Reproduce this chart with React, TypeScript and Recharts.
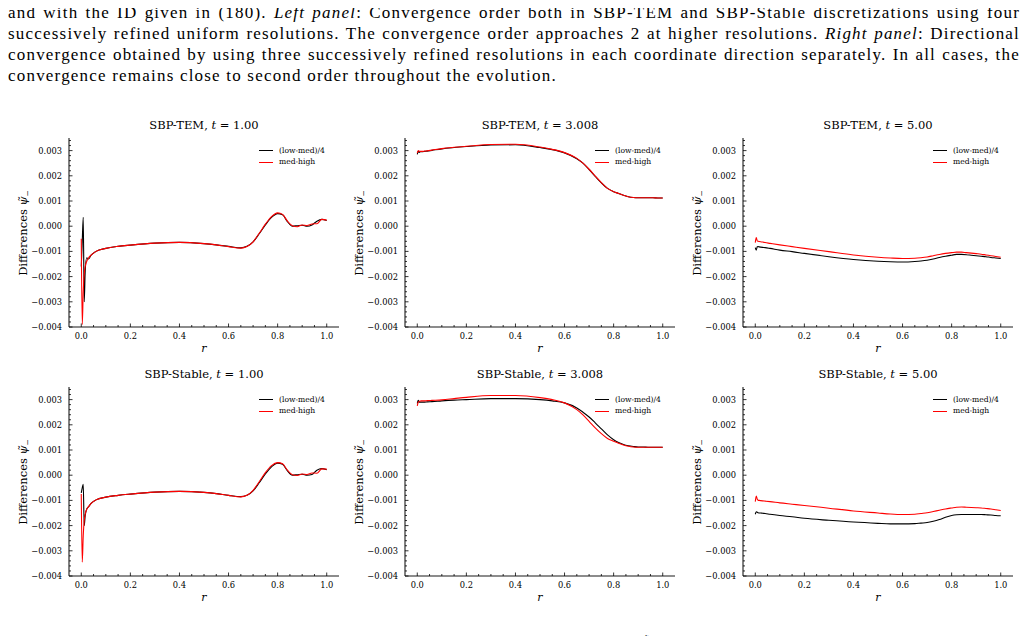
import { LineChart, Line, XAxis, YAxis } from 'recharts';

// radial grid shared by all panels
const rGrid = [
  0, 0.004, 0.008, 0.012, 0.016, 0.022, 0.03, 0.04, 0.06, 0.1, 0.15, 0.2, 0.3, 0.4, 0.5, 0.55, 0.6,
  0.65, 0.675, 0.7, 0.725, 0.75, 0.775, 0.8, 0.82, 0.84, 0.86, 0.88, 0.9, 0.92, 0.94, 0.96, 0.98, 1.0,
];

// differences of psi_minus, in units of 1e-3
const temT1Low = [
  -1.6, -0.6, 0.35, -3.0, -1.8, -1.25, -1.3, -1.15, -1.0, -0.88, -0.8, -0.75, -0.67, -0.64, -0.69, -0.74, -0.8,
  -0.86, -0.8, -0.62, -0.3, 0.05, 0.35, 0.5, 0.45, 0.18, 0.0, 0.02, 0.04, 0.0, 0.05, 0.2, 0.27, 0.23,
];
const temT1High = [
  -0.5, -3.9, -2.6, -1.9, -1.6, -1.4, -1.25, -1.15, -1.0, -0.88, -0.8, -0.75, -0.67, -0.64, -0.69, -0.74, -0.81,
  -0.87, -0.81, -0.62, -0.28, 0.08, 0.38, 0.53, 0.47, 0.2, 0.02, -0.02, 0.05, 0.03, 0.09, 0.1, 0.27, 0.24,
];
const temT3Low = [
  2.85, 2.97, 2.93, 2.95, 2.96, 2.96, 2.97, 2.98, 3.01, 3.07, 3.12, 3.16, 3.22, 3.23, 3.12, 3.04, 2.91,
  2.68, 2.5, 2.25, 1.98, 1.72, 1.5, 1.37, 1.3, 1.23, 1.17, 1.14, 1.13, 1.13, 1.13, 1.13, 1.12, 1.12,
];
const temT3High = [
  2.9, 3.0, 2.97, 2.97, 2.97, 2.97, 2.98, 2.99, 3.02, 3.08, 3.13, 3.17, 3.24, 3.25, 3.14, 3.05, 2.92,
  2.69, 2.5, 2.26, 1.99, 1.73, 1.5, 1.37, 1.3, 1.23, 1.17, 1.14, 1.13, 1.13, 1.13, 1.13, 1.12, 1.12,
];
const temT5Low = [
  -0.85, -0.95, -0.82, -0.81, -0.82, -0.83, -0.84, -0.85, -0.88, -0.95, -1.01, -1.08, -1.21, -1.32, -1.39, -1.41, -1.42,
  -1.4, -1.38, -1.35, -1.3, -1.24, -1.19, -1.15, -1.12, -1.12, -1.13, -1.15, -1.17, -1.19, -1.21, -1.24, -1.26, -1.28,
];
const temT5High = [
  -0.65, -0.45, -0.58, -0.6, -0.61, -0.62, -0.63, -0.65, -0.68, -0.74, -0.81, -0.88, -1.01, -1.14, -1.23, -1.26, -1.28,
  -1.27, -1.25, -1.22, -1.17, -1.12, -1.08, -1.05, -1.03, -1.03, -1.05, -1.07, -1.09, -1.11, -1.14, -1.17, -1.2, -1.23,
];
const stableT1Low = [
  -0.7, -0.5, -0.36, -2.0, -1.6, -1.35, -1.25, -1.12, -0.98, -0.87, -0.8, -0.75, -0.67, -0.64, -0.68, -0.73, -0.8,
  -0.85, -0.8, -0.62, -0.3, 0.05, 0.33, 0.48, 0.43, 0.17, 0.0, 0.02, 0.04, 0.0, 0.03, 0.2, 0.26, 0.22,
];
const stableT1High = [
  -0.75, -3.45, -2.4, -1.8, -1.55, -1.35, -1.25, -1.12, -0.98, -0.87, -0.8, -0.75, -0.67, -0.64, -0.68, -0.73, -0.8,
  -0.86, -0.8, -0.6, -0.26, 0.1, 0.38, 0.5, 0.45, 0.2, 0.02, -0.01, 0.05, 0.03, 0.09, 0.08, 0.25, 0.24,
];
const stableT3Low = [
  2.85, 2.97, 2.9, 2.9, 2.9, 2.9, 2.9, 2.91, 2.92, 2.95, 2.98, 3.0, 3.04, 3.04, 3.0, 2.95, 2.87,
  2.67, 2.5, 2.31, 2.08, 1.84, 1.6, 1.41, 1.3, 1.22, 1.17, 1.14, 1.12, 1.12, 1.11, 1.11, 1.11, 1.11,
];
const stableT3High = [
  2.75, 2.9, 2.93, 2.94, 2.95, 2.95, 2.95, 2.96, 2.97, 2.99, 3.04, 3.09, 3.16, 3.16, 3.08, 3.0, 2.87,
  2.6, 2.39, 2.14, 1.88, 1.65, 1.46, 1.35, 1.27, 1.2, 1.15, 1.12, 1.11, 1.11, 1.11, 1.11, 1.11, 1.11,
];
const stableT5Low = [
  -1.55, -1.45, -1.47, -1.49, -1.5, -1.5, -1.51, -1.52, -1.55, -1.6, -1.65, -1.71, -1.79, -1.86, -1.91, -1.93, -1.93,
  -1.92, -1.9, -1.88, -1.83, -1.76, -1.67, -1.6, -1.57, -1.56, -1.56, -1.56, -1.56, -1.56, -1.57, -1.58, -1.6, -1.61,
];
const stableT5High = [
  -1.05, -0.83, -0.95, -0.99, -1.0, -1.01, -1.02, -1.03, -1.05, -1.1, -1.15, -1.2, -1.31, -1.42, -1.5, -1.54, -1.56,
  -1.55, -1.52, -1.49, -1.44, -1.39, -1.34, -1.3, -1.27, -1.26, -1.27, -1.28, -1.29, -1.3, -1.32, -1.34, -1.37, -1.4,
];

const schemes = ['SBP-TEM', 'SBP-Stable'];
const times = ['1.00', '3.008', '5.00'];
const legendLabels = ['(low-med)/4', 'med-high'];
const seriesColors = ['#000000', '#ff0000'];

const panelSeries = [
  [temT1Low, temT1High],
  [temT3Low, temT3High],
  [temT5Low, temT5High],
  [stableT1Low, stableT1High],
  [stableT3Low, stableT3High],
  [stableT5Low, stableT5High],
];

// layout
const COL_LEFT = [69, 405, 743];
const ROW_TOP = [138, 387];
const BOX_W = 270;
const BOX_H = 189;
const PAD_L = 50;
const PAD_R = 4;
const PAD_T = 4;
const PAD_B = 22;
const X_DOMAIN: [number, number] = [-0.05, 1.05];
const Y_DOMAIN: [number, number] = [-4, 3.5];
const SERIF = '"DejaVu Serif", serif';
const FRAME = { stroke: '#1a1a1a', strokeWidth: 1.1 };
const MAJOR = 3.5;
const MINOR = 2;
const TICK_FONT = 8.3;

function buildTicks(from: number, to: number, step: number) {
  const out: number[] = [];
  const n = Math.round((to - from) / step);
  for (let i = 0; i <= n; i++) out.push(+(from + i * step).toFixed(4));
  return out;
}
const xTicks = buildTicks(0, 1, 0.05);
const yTicks = buildTicks(-4, 3.4, 0.2);

const onStep = (v: number, step: number) => Math.abs(v / step - Math.round(v / step)) < 1e-6;
const fmtY = (v: number) => (v / 1000).toFixed(3).replace('-', '\u2212');

function bottomTick(p: any) {
  const v = p.payload.value as number;
  const major = onStep(v, 0.2);
  return (
    <g>
      <line x1={p.x} x2={p.x} y1={p.y} y2={p.y - (major ? MAJOR : MINOR)} stroke="#000" strokeWidth={0.8} />
      {major && (
        <text x={p.x} y={p.y + 11.9} textAnchor="middle" fontFamily={SERIF} fontSize={TICK_FONT} fill="#000">
          {v.toFixed(1)}
        </text>
      )}
    </g>
  );
}
function topTick(p: any) {
  const major = onStep(p.payload.value, 0.2);
  return <line x1={p.x} x2={p.x} y1={p.y} y2={p.y + (major ? MAJOR : MINOR)} stroke="#000" strokeWidth={0.8} />;
}
function leftTick(p: any) {
  const v = p.payload.value as number;
  const major = onStep(v, 1);
  return (
    <g>
      <line x1={p.x} x2={p.x + (major ? MAJOR : MINOR)} y1={p.y} y2={p.y} stroke="#000" strokeWidth={0.8} />
      {major && (
        <text x={p.x - 7} y={p.y} dy="0.36em" textAnchor="end" fontFamily={SERIF} fontSize={TICK_FONT} fill="#000">
          {fmtY(v)}
        </text>
      )}
    </g>
  );
}
function rightTick(p: any) {
  const major = onStep(p.payload.value, 1);
  return <line x1={p.x} x2={p.x - (major ? MAJOR : MINOR)} y1={p.y} y2={p.y} stroke="#000" strokeWidth={0.8} />;
}

function Panel({ idx }: { idx: number }) {
  const row = Math.floor(idx / 3);
  const col = idx % 3;
  const [low, high] = panelSeries[idx];
  const data = rGrid.map((r, i) => ({ r, low: low[i], high: high[i] }));
  const left = COL_LEFT[col];
  const top = ROW_TOP[row];
  const W = PAD_L + BOX_W + PAD_R;
  const H = PAD_T + BOX_H + PAD_B;

  return (
    <>
      <div
        style={{
          position: 'absolute', left, top: top - 21, width: BOX_W, height: 16, lineHeight: '16px',
          textAlign: 'center', fontFamily: SERIF, fontSize: 11.5, whiteSpace: 'nowrap',
        }}
      >
        {schemes[row]}, <i>t</i> = {times[col]}
      </div>
      <div
        style={{
          position: 'absolute', left: left - 44, top: top + BOX_H / 2, transform: 'translate(-50%, -50%) rotate(-90deg)',
          fontFamily: SERIF, fontSize: 11.5, whiteSpace: 'nowrap', lineHeight: '16px',
        }}
      >
        Differences <i>{'\u03C8\u0303'}</i>
        <sub style={{ fontSize: 7.5, verticalAlign: '-3px' }}>{'\u2212'}</sub>
      </div>
      <div
        style={{
          position: 'absolute', left, top: top + BOX_H + 14, width: BOX_W, height: 16, lineHeight: '16px',
          textAlign: 'center', fontFamily: SERIF, fontSize: 11, fontStyle: 'italic',
        }}
      >
        r
      </div>
      <div style={{ position: 'absolute', left: left - PAD_L, top: top - PAD_T, width: W, height: H }}>
        <LineChart width={W} height={H} data={data} margin={{ top: PAD_T, right: PAD_R, bottom: 0, left: 0 }}>
          <XAxis
            xAxisId="b" dataKey="r" type="number" domain={X_DOMAIN} allowDataOverflow ticks={xTicks} interval={0}
            height={PAD_B} tickSize={0} tickMargin={0} tickLine={false} axisLine={FRAME} tick={bottomTick}
          />
          <XAxis
            xAxisId="t" orientation="top" dataKey="r" type="number" domain={X_DOMAIN} allowDataOverflow ticks={xTicks}
            interval={0} height={0} tickSize={0} tickMargin={0} tickLine={false} axisLine={FRAME} tick={topTick}
          />
          <YAxis
            yAxisId="l" type="number" domain={Y_DOMAIN} allowDataOverflow ticks={yTicks} interval={0}
            width={PAD_L} tickSize={0} tickMargin={0} tickLine={false} axisLine={FRAME} tick={leftTick}
          />
          <YAxis
            yAxisId="rt" orientation="right" type="number" domain={Y_DOMAIN} allowDataOverflow ticks={yTicks}
            interval={0} width={0} tickSize={0} tickMargin={0} tickLine={false} axisLine={FRAME} tick={rightTick}
          />
          <Line
            xAxisId="b" yAxisId="l" dataKey="low" name={legendLabels[0]} type="monotone" stroke={seriesColors[0]}
            strokeWidth={1.1} dot={false} activeDot={false} isAnimationActive={false}
          />
          <Line
            xAxisId="b" yAxisId="l" dataKey="high" name={legendLabels[1]} type="monotone" stroke={seriesColors[1]}
            strokeWidth={1.1} dot={false} activeDot={false} isAnimationActive={false}
          />
        </LineChart>
        {legendLabels.map((label, i) => (
          <div key={label}>
            <div
              style={{
                position: 'absolute', left: PAD_L + 190, top: PAD_T + 12.7 + i * 11.6 - 0.6, width: 14, height: 1.2,
                background: seriesColors[i],
              }}
            />
            <div
              style={{
                position: 'absolute', left: PAD_L + 210, top: PAD_T + 12.7 + i * 11.6 - 6, height: 12, lineHeight: '12px',
                fontFamily: SERIF, fontSize: 7.6, whiteSpace: 'nowrap',
              }}
            >
              {label}
            </div>
          </div>
        ))}
      </div>
    </>
  );
}

const captionStyle = {
  position: 'absolute' as const, left: 8, width: 1012, height: 21, lineHeight: '21px',
  fontFamily: '"Liberation Serif", serif', fontSize: 17, letterSpacing: 1.2, whiteSpace: 'nowrap' as const,
};

export default function App() {
  return (
    <div style={{ position: 'relative', width: 1028, height: 644, margin: -8, background: '#fff', overflow: 'hidden' }}>
      <div style={{ ...captionStyle, top: 1.5, textAlign: 'justify', textAlignLast: 'justify' }}>
        and with the ID given in (180). <i>Left panel</i>: Convergence order both in SBP-TEM and SBP-Stable discretizations using four
      </div>
      <div style={{ ...captionStyle, top: 22.5, textAlign: 'justify', textAlignLast: 'justify' }}>
        successively refined uniform resolutions. The convergence order approaches 2 at higher resolutions. <i>Right panel</i>: Directional
      </div>
      <div style={{ ...captionStyle, top: 43.5, textAlign: 'justify', textAlignLast: 'justify' }}>
        convergence obtained by using three successively refined resolutions in each coordinate direction separately. In all cases, the
      </div>
      <div style={{ ...captionStyle, top: 64.5 }}>
        convergence remains close to second order throughout the evolution.
      </div>
      {[0, 1, 2, 3, 4, 5].map((i) => (
        <Panel key={i} idx={i} />
      ))}
      <div
        style={{
          position: 'absolute', left: 645, top: 637, height: 6, lineHeight: '6px',
          fontFamily: '"Liberation Serif", serif', fontSize: 10,
        }}
      >
        {'\u02DC'}
      </div>
    </div>
  );
}
